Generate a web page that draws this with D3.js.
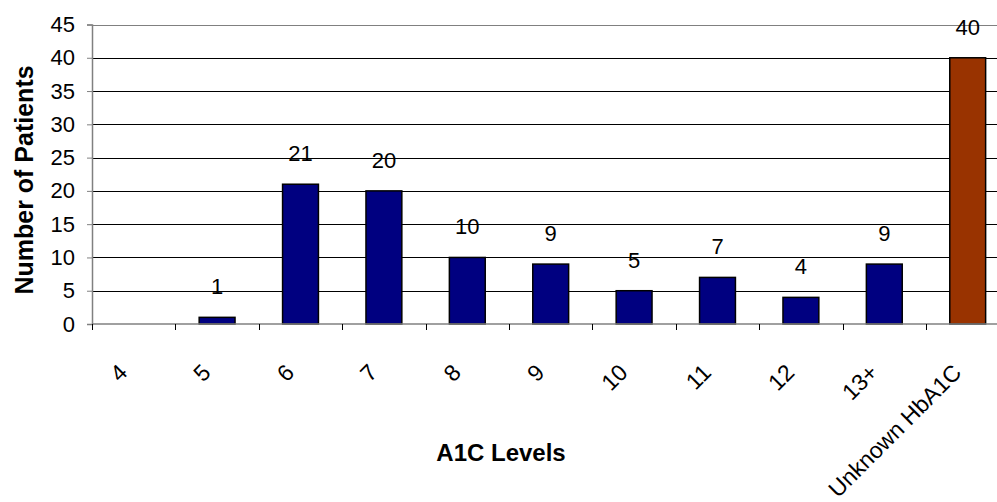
<!DOCTYPE html>
<html>
<head>
<meta charset="utf-8">
<script src="https://cdn.jsdelivr.net/npm/d3@7"></script>
<style>
  body { margin: 0; background: #fff; }
  text { font-family: "Liberation Sans", Arial, sans-serif; fill: #000; }
</style>
</head>
<body>
<svg id="chart" width="997" height="502"></svg>
<script>
"use strict";

// ==========  Data  ==========
var categories = ['4', '5', '6', '7', '8', '9', '10', '11', '12', '13+', 'Unknown HbA1C']
var patients   = [0, 1, 21, 20, 10, 9, 5, 7, 4, 9, 40]
var barColors  = ['#000080', '#000080', '#000080', '#000080', '#000080', '#000080',
                  '#000080', '#000080', '#000080', '#000080', '#993300']
var yTicks     = [0, 5, 10, 15, 20, 25, 30, 35, 40, 45]

// ==========  Layout  ==========
var plotLeft = 92, plotTop = 24.5, plotBottom = 324
var bandW = 83.4
var plotRight = plotLeft + bandW * categories.length   // runs past the window, like the original

var svg = d3.select('#chart')

var x = d3.scaleBand().domain(categories).range([plotLeft, plotRight]).paddingInner(0.57).paddingOuter(0.285)
var xGrid = d3.scaleBand().domain(categories).range([plotLeft, plotRight])
var y = d3.scaleLinear().domain([0, 45]).range([plotBottom, plotTop])

// gridlines
svg.append('g').selectAll('line').data(yTicks.slice(1)).join('line')
   .attr('x1', plotLeft).attr('x2', plotRight)
   .attr('y1', function(d) { return Math.round(y(d)) + 0.5 })
   .attr('y2', function(d) { return Math.round(y(d)) + 0.5 })
   .attr('stroke', function(d) { return d == 45 ? '#808080' : '#000' })
   .attr('stroke-width', 1)

// bars
svg.append('g').selectAll('rect').data(patients).join('rect')
   .attr('x', function(d, i) { return x(categories[i]) })
   .attr('width', x.bandwidth())
   .attr('y', function(d) { return y(d) })
   .attr('height', function(d) { return plotBottom - y(d) })
   .attr('fill', function(d, i) { return barColors[i] })
   .attr('stroke', '#000')
   .attr('stroke-width', 1.5)
   .style('display', function(d) { return d == 0 ? 'none' : null })

// value labels
svg.append('g').selectAll('text').data(patients).join('text')
   .attr('x', function(d, i) { return x(categories[i]) + x.bandwidth() / 2 })
   .attr('y', function(d) { return y(d) - 23 })
   .attr('text-anchor', 'middle')
   .attr('font-size', 22)
   .text(function(d) { return d == 0 ? '' : d })

// y axis
var yAxis = svg.append('g').attr('transform', 'translate(' + plotLeft + ',0)')
  .call(d3.axisLeft(y).tickValues(yTicks).tickSize(5).tickPadding(12))
yAxis.select('.domain').attr('stroke', '#808080').attr('stroke-width', 1.5)
yAxis.selectAll('.tick line').attr('stroke', '#808080')
yAxis.selectAll('.tick text').attr('font-size', 22).attr('font-family', '"Liberation Sans", Arial, sans-serif')

// x axis line + ticks at category boundaries
svg.append('line').attr('x1', plotLeft).attr('x2', plotRight).attr('y1', plotBottom).attr('y2', plotBottom)
   .attr('stroke', '#808080').attr('stroke-width', 1.5)
svg.append('g').selectAll('line').data(categories).join('line')
   .attr('x1', function(d) { return Math.round(xGrid(d)) + 0.5 })
   .attr('x2', function(d) { return Math.round(xGrid(d)) + 0.5 })
   .attr('y1', plotBottom).attr('y2', plotBottom + 6)
   .attr('stroke', '#000')

// rotated category labels
svg.append('g').selectAll('text').data(categories).join('text')
   .attr('transform', function(d) {
     return 'translate(' + (xGrid(d) + xGrid.bandwidth() / 2 - 5) + ',' + 374 + ') rotate(-45)'
   })
   .attr('text-anchor', 'end')
   .attr('font-size', 23)
   .text(function(d) { return d })

// axis titles
svg.append('text')
   .attr('transform', 'translate(33,180) rotate(-90)')
   .attr('text-anchor', 'middle')
   .attr('font-size', 25).attr('font-weight', 'bold')
   .text('Number of Patients')
svg.append('text')
   .attr('x', 501).attr('y', 461)
   .attr('text-anchor', 'middle')
   .attr('font-size', 24).attr('font-weight', 'bold')
   .text('A1C Levels')
</script>
</body>
</html>
